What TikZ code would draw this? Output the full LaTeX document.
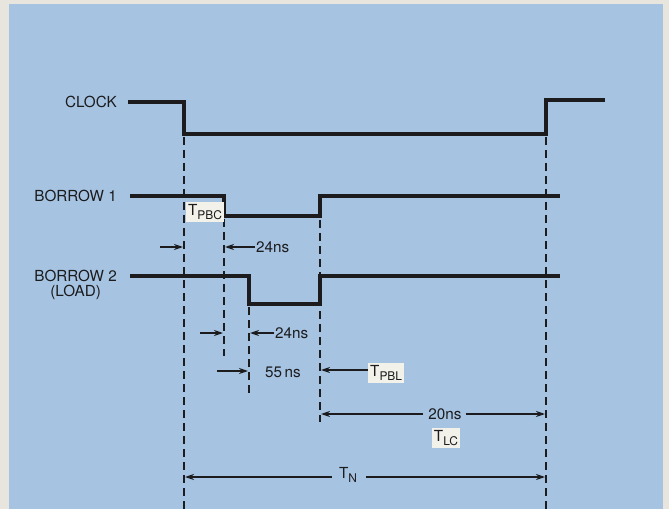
\documentclass[tikz,border=0pt]{standalone}
\usepackage{fontspec}
\setmainfont{TeX Gyre Heros}
\usetikzlibrary{arrows.meta,positioning}

\definecolor{paper}{RGB}{232,229,222}
\definecolor{panel}{RGB}{166,196,226}
\definecolor{ink}{RGB}{28,28,30}
\definecolor{tagwhite}{RGB}{242,241,234}

\newcommand{\tsub}[1]{T\raisebox{-0.5ex}{\fontsize{12}{13}\selectfont #1}}

\tikzset{
  signal/.style={ink, line width=3.2bp, line join=miter},
  guide/.style={ink, line width=1.4bp, dash pattern=on 8bp off 5bp},
  dim/.style={ink, line width=1.4bp, -{Stealth[length=9bp,width=6bp]}},
  lbl/.style={ink, font=\fontsize{15.3}{17}\selectfont, inner sep=1bp},
  tag/.style={lbl, fill=tagwhite, inner sep=2bp},
}

\begin{document}
\begin{tikzpicture}[x=1bp, y=-1bp]
    \useasboundingbox (0,0) rectangle (669,509);
    % Hintergrund
    \fill[paper] (0,0) rectangle (669,509);
    \fill[panel] (9,4) rectangle (663,509);

    % Signalnamen
    \node[lbl, anchor=east] (clk)  at (118,102) {CLOCK};
    \node[lbl, anchor=east] (bor1) at (118,196) {BORROW 1};
    \node[lbl, anchor=east] (bor2) at (118,276) {BORROW 2};
    \node[lbl, below=1bp of bor2] (load) {(LOAD)};

    % Flanken
    \coordinate (clkfall) at (184,134);
    \coordinate (clkrise) at (546,134);
    \coordinate (b1fall)  at (224,216);
    \coordinate (b1rise)  at (320,216);
    \coordinate (b2fall)  at (249,304);
    \coordinate (b2rise)  at (320,304);

    % Zeitverlaeufe
    \draw[signal] (128,102) -- (184,102) -- (clkfall) -- (clkrise) -- (546,100) -- (605,100);
    \draw[signal] (130,196) -- (224,196) -- (b1fall) -- (b1rise) -- (320,196) -- (560,196);
    \draw[signal] (130,276) -- (249,276) -- (b2fall) -- (b2rise) -- (320,276) -- (560,276);

    % Hilfslinien
    \draw[guide] (clkfall) ++(0,3) -- (184,509);
    \draw[guide] (b1fall) ++(0,3) -- (224,356);
    \draw[guide] (b2fall) ++(0,3) -- (249,394);
    \draw[guide] (b1rise) ++(0,4) -- (320,422);
    \draw[guide] (clkrise) ++(0,3) -- (546,509);

    % T_PBC
    \node[tag] (tpbc) at (205,212) {\tsub{PBC}};
    \coordinate (a1s) at (160,247);
    \coordinate (a1e) at (183,247);
    \draw[dim] (a1s) -- (a1e);
    \node[lbl, anchor=west] (ns24a) at (255,247) {24ns};
    \coordinate (a2e) at (225,247);
    \draw[dim] (ns24a.west) -- (a2e);

    % zweite 24ns
    \coordinate (a3s) at (200,333);
    \coordinate (a3e) at (223,333);
    \draw[dim] (a3s) -- (a3e);
    \node[lbl, anchor=west] (ns24b) at (274,333) {24ns};
    \coordinate (a4e) at (250,333);
    \draw[dim] (ns24b.west) -- (a4e);

    % 55 ns und T_PBL
    \coordinate (a5s) at (217,371);
    \coordinate (a5e) at (248,371);
    \draw[dim] (a5s) -- (a5e);
    \node[lbl] (ns55) at (283,372) {55\,ns};
    \node[tag, anchor=west] (tpbl) at (368,373) {\tsub{PBL}};
    \coordinate (a6e) at (321,370);
    \draw[dim] (tpbl.west |- a6e) -- (a6e);

    % 20ns und T_LC
    \node[lbl] (ns20) at (445,414) {20ns};
    \coordinate (a7l) at (321,414);
    \coordinate (a7r) at (545,414);
    \draw[dim] ([xshift=-4bp]ns20.west) -- (a7l);
    \draw[dim] ([xshift=3bp]ns20.east) -- (a7r);
    \node[tag] (tlc) at (446,438) {\tsub{LC}};

    % T_N
    \node[lbl] (tn) at (348,475) {\tsub{N}};
    \coordinate (a8l) at (185,477);
    \coordinate (a8r) at (545,477);
    \draw[dim] ([xshift=-6bp]tn.west |- a8l) -- (a8l);
    \draw[dim] ([xshift=8bp]tn.east |- a8r) -- (a8r);
\end{tikzpicture}
\end{document}
